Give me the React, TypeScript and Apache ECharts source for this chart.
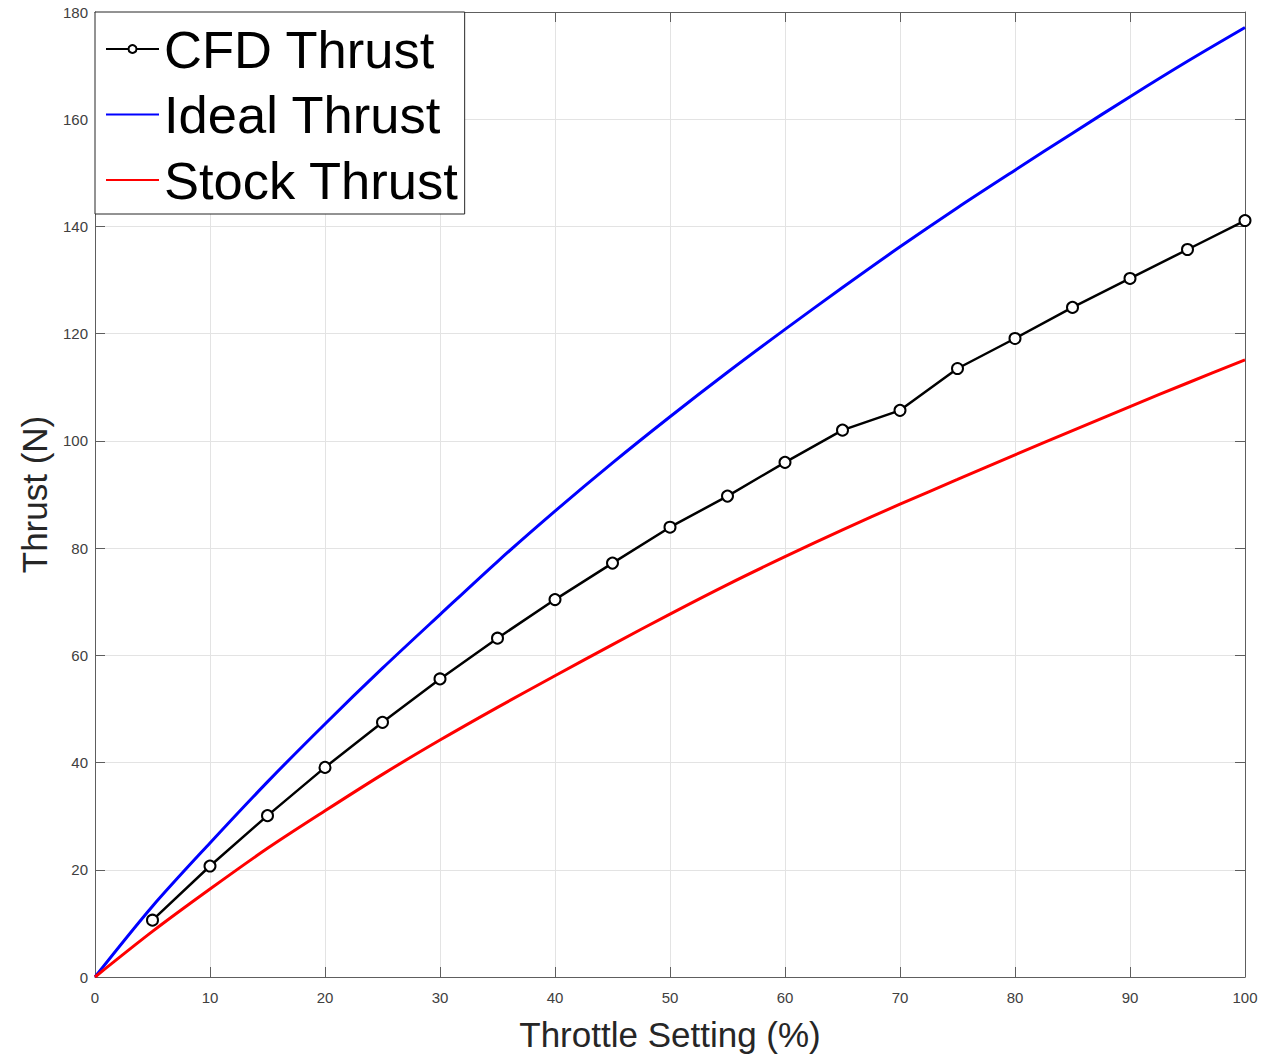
import React, { useEffect, useRef } from "react";
import * as echarts from "echarts";

const throttle = [0, 5, 10, 15, 20, 25, 30, 35, 40, 45, 50, 55, 60, 65, 70, 75, 80, 85, 90, 95, 100];
const idealThrust = [0, 13.2, 25.0, 36.4, 47.2, 57.6, 67.6, 77.5, 86.9, 95.9, 104.5, 112.8, 120.8, 128.6, 136.2, 143.5, 150.5, 157.4, 164.2, 170.8, 177.1];
const stockThrust = [0, 8.5, 16.4, 24.0, 31.0, 37.8, 44.2, 50.3, 56.2, 62.0, 67.7, 73.2, 78.4, 83.4, 88.2, 92.8, 97.4, 101.9, 106.4, 110.8, 115.1];
const cfdThrottle = [5, 10, 15, 20, 25, 30, 35, 40, 45, 50, 55, 60, 65, 70, 75, 80, 85, 90, 95, 100];
const cfdThrust = [10.6, 20.7, 30.1, 39.1, 47.5, 55.6, 63.2, 70.4, 77.2, 83.9, 89.7, 96.0, 102.0, 105.7, 113.5, 119.1, 124.9, 130.3, 135.7, 141.1];

const seriesNames = ["CFD Thrust", "Ideal Thrust", "Stock Thrust"];
const xName = "Throttle Setting (%)";
const yName = "Thrust (N)";

const FONT = "'Liberation Sans', Arial, Helvetica, sans-serif";
const AXIS_COLOR = "#5e5e5e";
const LABEL_COLOR = "#404040";

export default function App() {
  const ref = useRef<HTMLDivElement>(null);
  useEffect(() => {
    if (!ref.current) return;
    const chart = echarts.init(ref.current, undefined, { renderer: "svg" });
    const axisCommon = {
      type: "value" as const,
      axisLine: { show: true, onZero: false, lineStyle: { color: AXIS_COLOR, width: 1 } },
      axisTick: { show: true, inside: true, length: 10, lineStyle: { color: AXIS_COLOR, width: 1 } },
    };
    const hiddenSymbol = { color: "rgba(0,0,0,0)", borderColor: "rgba(0,0,0,0)", borderWidth: 0, opacity: 0 };
    chart.setOption({
      animation: false,
      backgroundColor: "#ffffff",
      textStyle: { fontFamily: FONT },
      grid: { left: 95, right: 29, top: 12, bottom: 76, containLabel: false },
      legend: {
        orient: "vertical",
        left: 95,
        top: 12,
        padding: [9, 6, 6, 10],
        itemGap: 9.5,
        itemWidth: 53,
        itemHeight: 10,
        backgroundColor: "#ffffff",
        borderColor: "#262626",
        borderWidth: 1,
        borderRadius: 0,
        selectedMode: false,
        textStyle: { fontSize: 52.5, color: "#000000", fontFamily: FONT, lineHeight: 56 },
        data: [
          { name: seriesNames[0] },
          { name: seriesNames[1], itemStyle: hiddenSymbol },
          { name: seriesNames[2], itemStyle: hiddenSymbol },
        ],
      },
      xAxis: [
        {
          ...axisCommon,
          position: "bottom",
          min: 0,
          max: 100,
          interval: 10,
          name: xName,
          nameLocation: "middle",
          nameGap: 40,
          nameTextStyle: { fontSize: 35, color: "#262626", fontFamily: FONT },
          axisLabel: { fontSize: 15, color: LABEL_COLOR, margin: 13, fontFamily: FONT },
          splitLine: { show: true, lineStyle: { color: "#e3e3e3", width: 1 } },
        },
        {
          ...axisCommon,
          position: "top",
          min: 0,
          max: 100,
          interval: 10,
          axisLabel: { show: false },
          splitLine: { show: false },
        },
      ],
      yAxis: [
        {
          ...axisCommon,
          position: "left",
          min: 0,
          max: 180,
          interval: 20,
          name: yName,
          nameLocation: "middle",
          nameGap: 41,
          nameTextStyle: { fontSize: 35, color: "#262626", fontFamily: FONT },
          axisLabel: { fontSize: 15, color: LABEL_COLOR, margin: 7, fontFamily: FONT },
          splitLine: { show: true, lineStyle: { color: "#e3e3e3", width: 1 } },
        },
        {
          ...axisCommon,
          position: "right",
          min: 0,
          max: 180,
          interval: 20,
          axisLabel: { show: false },
          splitLine: { show: false },
        },
      ],
      series: [
        {
          name: seriesNames[0],
          type: "line",
          xAxisIndex: 0,
          yAxisIndex: 0,
          data: cfdThrottle.map((x, i) => [x, cfdThrust[i]]),
          symbol: "emptyCircle",
          symbolSize: 11,
          z: 5,
          lineStyle: { color: "#000000", width: 2.5 },
          itemStyle: { color: "#000000", borderColor: "#000000", borderWidth: 2.4 },
        },
        {
          name: seriesNames[1],
          type: "line",
          xAxisIndex: 0,
          yAxisIndex: 0,
          data: throttle.map((x, i) => [x, idealThrust[i]]),
          symbol: "none",
          smooth: 0.3,
          z: 3,
          lineStyle: { color: "#0000ff", width: 3 },
          itemStyle: { color: "#0000ff" },
        },
        {
          name: seriesNames[2],
          type: "line",
          xAxisIndex: 0,
          yAxisIndex: 0,
          data: throttle.map((x, i) => [x, stockThrust[i]]),
          symbol: "none",
          smooth: 0.3,
          z: 3,
          lineStyle: { color: "#ff0000", width: 3 },
          itemStyle: { color: "#ff0000" },
        },
      ],
    });
    return () => chart.dispose();
  }, []);
  return (
    <div
      ref={ref}
      style={{ position: "absolute", left: 0, top: 0, width: 1274, height: 1057 }}
    />
  );
}
